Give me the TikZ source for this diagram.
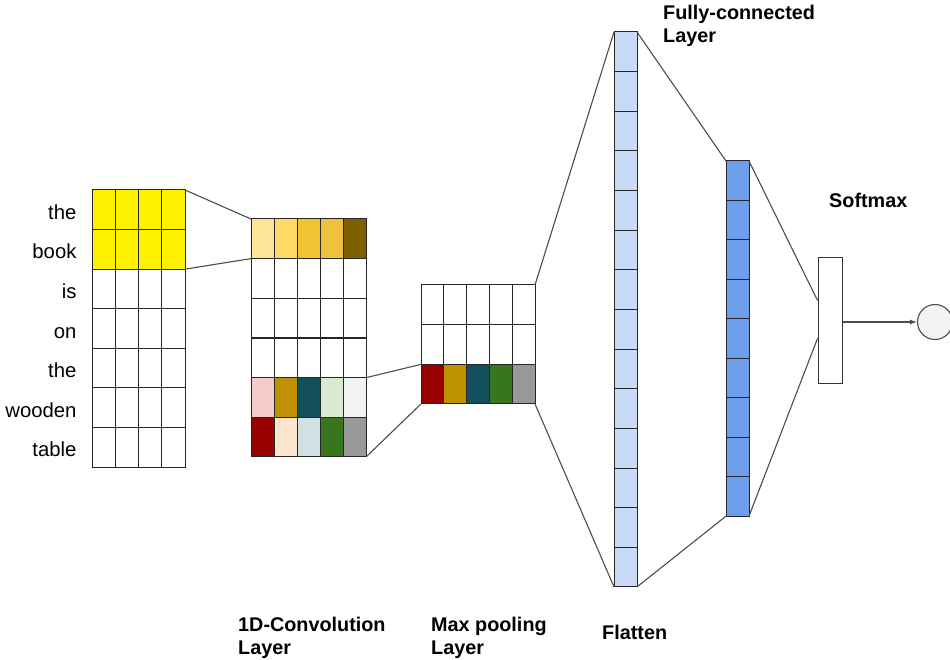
\documentclass[tikz,border=0pt]{standalone}
\usepackage{fontspec}
\setmainfont{Liberation Sans}
\usetikzlibrary{positioning,arrows.meta}
\definecolor{ylwA}{HTML}{FFE599}
\definecolor{ylwB}{HTML}{FFD966}
\definecolor{ylwC}{HTML}{F1C232}
\definecolor{ylwD}{HTML}{EFC13C}
\definecolor{ylwE}{HTML}{7F6000}
\definecolor{pinkA}{HTML}{F4CCCC}
\definecolor{gold}{HTML}{BF9000}
\definecolor{teal}{HTML}{134F5C}
\definecolor{mintA}{HTML}{D9EAD3}
\definecolor{greyA}{HTML}{F3F3F3}
\definecolor{redD}{HTML}{990000}
\definecolor{peach}{HTML}{FCE5CD}
\definecolor{cyanA}{HTML}{D0E0E3}
\definecolor{grnD}{HTML}{38761D}
\definecolor{greyD}{HTML}{999999}
\definecolor{blueA}{HTML}{C9DAF8}
\definecolor{blueB}{HTML}{6D9EEB}
\tikzset{%
  cell/.style  = {draw=black!85, line width=1pt, anchor=north west,
    inner sep=0pt, outer sep=0pt, minimum width=23pt,
    minimum height=39.6pt}, % one entry
  link/.style  = {draw=black!70, line width=1.1pt}, % connector
  word/.style  = {anchor=base east, font=\fontsize{20.3}{22}\selectfont},
  title/.style = {anchor=north west, align=left, inner sep=0pt,
    font=\bfseries\fontsize{19.8}{22.5}\selectfont}
}

\begin{document}
\begin{tikzpicture}[x=1pt, y=-1pt]
        \useasboundingbox (0,0) rectangle (950,660);

        % sentence matrix
        \foreach \r/\f in {1/yellow,2/yellow,3/white,4/white,5/white,6/white,7/white}
            \foreach \c in {1,...,4}
                \node [cell, fill=\f, minimum width=23.25pt] (in-\r-\c)
                    at ({92+(\c-1)*23.25},{190+(\r-1)*39.57}) {};
        \foreach \w [count=\r] in {the,book,is,on,the,wooden,table}
            \node [word] (w-\r) at ([xshift=-12pt, yshift=-9.5pt]in-\r-1.west) {\w};

        % convolution
        \foreach \r/\cols in {1/{ylwA,ylwB,ylwC,ylwD,ylwE},
                              2/{white,white,white,white,white},
                              3/{white,white,white,white,white},
                              4/{white,white,white,white,white},
                              5/{pinkA,gold,teal,mintA,greyA},
                              6/{redD,peach,cyanA,grnD,greyD}}
            \foreach \f [count=\c] in \cols
                \node [cell, fill=\f] (conv-\r-\c)
                    at ({251+(\c-1)*23},{219+(\r-1)*39.67}) {};

        % max pooling
        \foreach \r/\cols in {1/{white,white,white,white,white},
                              2/{white,white,white,white,white},
                              3/{redD,gold,teal,grnD,greyD}}
            \foreach \f [count=\c] in \cols
                \node [cell, fill=\f, minimum width=22.8pt] (pool-\r-\c)
                    at ({421+(\c-1)*22.8},{285+(\r-1)*39.67}) {};

        % flatten and fully-connected
        \foreach \r in {1,...,14}
            \node [cell, fill=blueA] (fl-\r) at (614,{32+(\r-1)*39.64}) {};
        \foreach \r in {1,...,9}
            \node [cell, fill=blueB] (fc-\r) at (726,{161+(\r-1)*39.44}) {};

        \node [draw=black!80, line width=1pt, inner sep=0pt,
            minimum width=24pt, minimum height=125pt] (soft) at (830,320.5) {};
        \node [circle, draw=black!70, fill=greyA, line width=1.1pt,
            inner sep=0pt, minimum size=35pt] (out) at (935,322) {};

        \draw[link] (in-1-4.north east) -- (conv-1-1.north west);
        \draw[link] (in-2-4.south east) -- (conv-1-1.south west);
        \draw[link] (conv-5-5.north east) -- (pool-3-1.north west);
        \draw[link] (conv-6-5.south east) -- (pool-3-1.south west);
        \draw[link] (pool-1-5.north east) -- (fl-1.north west);
        \draw[link] (pool-3-5.south east) -- (fl-14.south west);
        \draw[link] (fl-1.north east) -- (fc-1.north west);
        \draw[link] (fl-14.south east) -- (fc-9.south west);
        \draw[link] (fc-1.north east) -- ([yshift=20pt]soft.west);
        \draw[link] (fc-9.south east) -- ([yshift=-18pt]soft.west);
        \draw[link, -{Latex[length=7pt, width=5pt]}] (soft.east |- out.west) -- (out.west);

        \node [title] (t-conv) at (238,617) {1D-Convolution\\Layer};
        \node [title] (t-pool) at (431,617) {Max pooling\\Layer};
        \node [title, anchor=base west] (t-flat) at (602,639) {Flatten};
        \node [title] (t-fc) at (663,5) {Fully-connected\\Layer};
        \node [title, anchor=base west] (t-soft) at (829,208) {Softmax};
\end{tikzpicture}
\end{document}
